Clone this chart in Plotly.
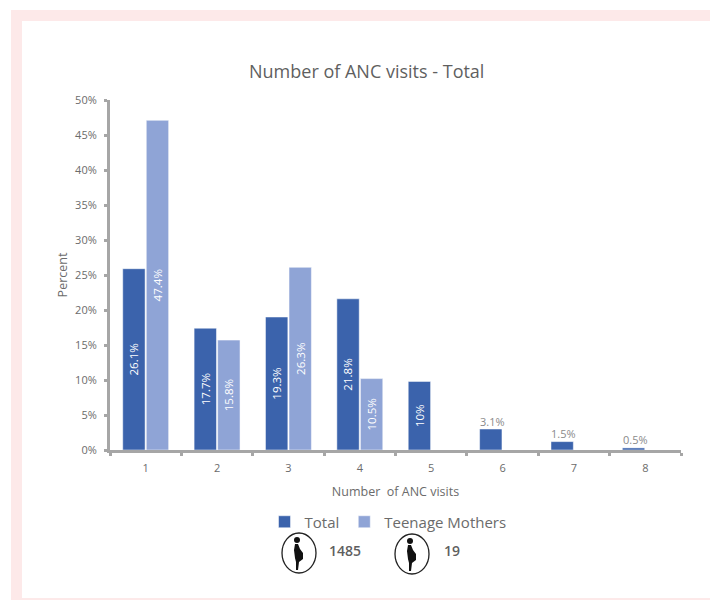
import plotly.graph_objects as go

categories = ["1", "2", "3", "4", "5", "6", "7", "8"]
total_values = [25.9, 17.4, 19.0, 21.6, 9.8, 3.0, 1.2, 0.3]
teen_values = [47.1, 15.7, 26.1, 10.2, None, None, None, None]
total_labels = ["26.1%", "17.7%", "19.3%", "21.8%", "10%", "", "", ""]
teen_labels = ["47.4%", "15.8%", "26.3%", "10.5%", "", "", "", ""]
outside_labels = ["", "", "", "", "", "3.1%", "1.5%", "0.5%"]
counts = ["1485", "19"]

FONT = "Open Sans"
GREY = "#5f5f5f"
TICK = "#6b6b6b"
AX = "#a6a6a6"
L, R, T, B = 110, 681, 100, 450


def px(x):
    return (x - L) / (R - L)


def py(y):
    return (B - y) / (B - T)


fig = go.Figure()
fig.add_bar(
    name="Total", x=categories, y=total_values, text=total_labels,
    marker=dict(color="#3b63ac", line=dict(color="#ffffff", width=0.5)),
    textposition="inside", insidetextanchor="middle", textangle=-90,
    textfont=dict(color="#ffffff", size=12, family=FONT),
)
fig.add_bar(
    name="Teenage Mothers", x=categories, y=teen_values, text=teen_labels,
    marker=dict(color="#8fa4d6", line=dict(color="#ffffff", width=0.5)),
    textposition="inside", insidetextanchor="middle", textangle=-90,
    textfont=dict(color="#ffffff", size=12, family=FONT),
)

shapes = []
for x0, y0, x1, y1 in [(11, 10, 710, 21), (11, 10, 22, 600), (11, 598, 710, 600)]:
    shapes.append(dict(type="rect", xref="paper", yref="paper", layer="below",
                       x0=px(x0), x1=px(x1), y0=py(y0), y1=py(y1),
                       fillcolor="#fde9e9", line_width=0))


def icon(cx, cy):
    shapes.append(dict(type="circle", xref="paper", yref="paper",
                       x0=px(cx - 17), x1=px(cx + 17), y0=py(cy - 20), y1=py(cy + 20),
                       line=dict(color="#222222", width=1.3), fillcolor="rgba(0,0,0,0)"))
    shapes.append(dict(type="circle", xref="paper", yref="paper",
                       x0=px(cx - 5), x1=px(cx + 1), y0=py(cy - 16), y1=py(cy - 10),
                       line_width=0, fillcolor="#111111"))
    pts = [(-4, -9), (-1, -9), (1, -4), (4, 0), (4, 6), (0, 9), (-1, 17),
           (-3, 17), (-3, 9), (-4, 5), (-5, -3)]
    d = "M " + " L ".join(f"{px(cx + a):.5f},{py(cy + b):.5f}" for a, b in pts) + " Z"
    shapes.append(dict(type="path", xref="paper", yref="paper", path=d,
                       line_width=0, fillcolor="#111111"))


icon(299, 553)
icon(412, 554)

annotations = [
    dict(text="Number of ANC visits - Total", x=px(366), y=py(71), xref="paper", yref="paper",
         xanchor="center", yanchor="middle",
         showarrow=False, font=dict(size=18, color=GREY, family=FONT)),
    dict(text=counts[0], x=px(345), y=py(550), xref="paper", yref="paper",
         xanchor="center", yanchor="middle",
         showarrow=False, font=dict(size=14, color=GREY, family=FONT, weight=600)),
    dict(text=counts[1], x=px(452), y=py(550), xref="paper", yref="paper",
         xanchor="center", yanchor="middle",
         showarrow=False, font=dict(size=14, color=GREY, family=FONT, weight=600)),
]
for i, (lab, v) in enumerate(zip(outside_labels, total_values)):
    if lab:
        annotations.append(dict(text=lab, x=i, y=v, xref="x", yref="y", xshift=-10, yshift=8,
                                showarrow=False, font=dict(size=11, color="#8a8a8a", family=FONT)))

fig.update_layout(
    width=710, height=600, autosize=False,
    margin=dict(l=L, r=710 - R, t=T, b=600 - B, pad=0),
    paper_bgcolor="#ffffff", plot_bgcolor="#ffffff",
    barmode="group", bargap=0.34, bargroupgap=0.05,
    font=dict(family=FONT, color=GREY),
    shapes=shapes, annotations=annotations,
    showlegend=True,
    legend=dict(orientation="h", x=px(388), xanchor="center", y=py(522), yanchor="middle",
                bgcolor="rgba(0,0,0,0)",
                font=dict(size=15, color=TICK, family=FONT),
                itemwidth=30, traceorder="normal"),
    xaxis=dict(
        type="category", categoryorder="array", categoryarray=categories,
        range=[-0.5, 7.5],
        tickson="boundaries", ticks="outside", ticklen=3, tickwidth=3, tickcolor=AX,
        showline=True, linecolor=AX, linewidth=3, showgrid=False,
        tickfont=dict(size=11, color=TICK), ticklabelstandoff=6,
        title=dict(text="Number  of ANC visits", font=dict(size=12.5, color=TICK), standoff=14),
    ),
    yaxis=dict(
        range=[0, 50], dtick=5, ticksuffix="%", ticks="outside", ticklen=3, tickwidth=3,
        tickcolor=AX, showline=True, linecolor=AX, linewidth=3, showgrid=False, zeroline=False,
        tickfont=dict(size=11, color=TICK), ticklabelstandoff=5,
        title=dict(text="Percent", font=dict(size=12.5, color=TICK), standoff=5),
    ),
)

fig.write_html("out.html", config={"displayModeBar": False},
               post_script="document.body.style.margin='0';")
